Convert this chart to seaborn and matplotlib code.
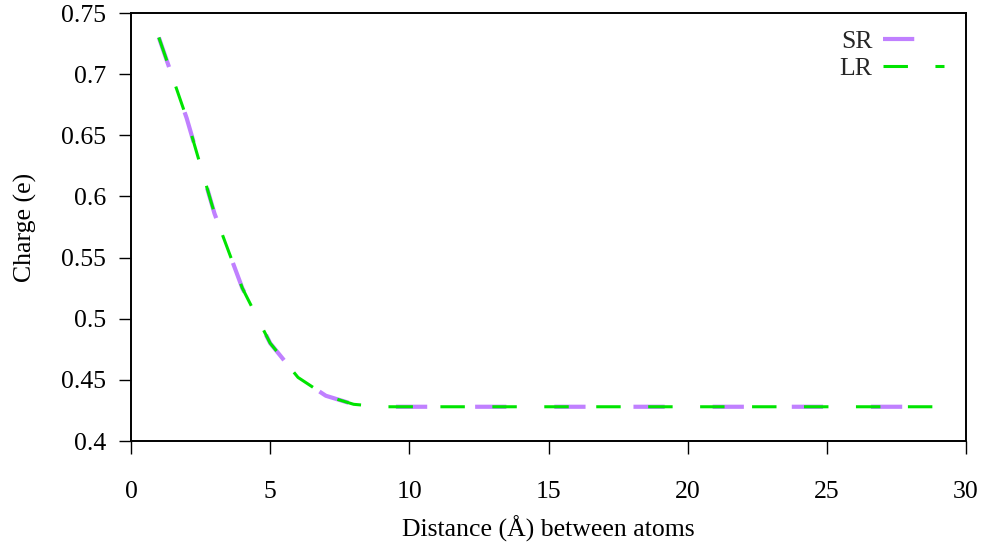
import matplotlib
matplotlib.use("Agg")
import matplotlib.pyplot as plt
import seaborn as sns
import pandas as pd
from matplotlib.ticker import FuncFormatter

distance = list(range(1, 30))
sr_charge = [0.730, 0.664, 0.586, 0.525, 0.480, 0.452, 0.437, 0.430] + [0.428] * 21
lr_charge = [0.730, 0.664, 0.586, 0.525, 0.480, 0.452, 0.437, 0.430] + [0.428] * 21
x_ticks = [0, 5, 10, 15, 20, 25, 30]
y_ticks = [0.4, 0.45, 0.5, 0.55, 0.6, 0.65, 0.7, 0.75]

sns.set_theme(style="white")
plt.rcParams['font.family'] = ['Liberation Serif', 'DejaVu Serif']

fig = plt.figure(figsize=(9.84, 5.44), dpi=100)
ax = fig.add_axes([131/984, 103/544, (966-131)/984, (441-13)/544])

df_sr = pd.DataFrame({"x": distance, "y": sr_charge})
df_lr = pd.DataFrame({"x": distance, "y": lr_charge})

sns.lineplot(data=df_sr, x="x", y="y", ax=ax, color="#c080ff", linewidth=3.0,
             label="SR", zorder=2)
sns.lineplot(data=df_lr, x="x", y="y", ax=ax, color="#00e400", linewidth=2.2,
             label="LR", zorder=3)
lines = ax.get_lines()
lines[0].set_dashes((7.5, 11.5))
lines[0].set_dash_capstyle("butt")
lines[1].set_dashes((8.0, 9.0))
lines[1].set_dash_capstyle("butt")

ax.set_xlim(0, 30)
ax.set_ylim(0.4, 0.75)
ax.set_xticks(x_ticks)
ax.set_yticks(y_ticks)
ax.yaxis.set_major_formatter(FuncFormatter(lambda v, p: f"{v:g}"))
ax.tick_params(axis="both", direction="out", length=9, width=1.0, labelsize=18.5,
               colors="black", left=True, bottom=True)
ax.tick_params(axis="x", pad=20)
ax.tick_params(axis="y", pad=9)
for s in ax.spines.values():
    s.set_color("black")
    s.set_linewidth(1.4)

ax.set_xlabel("Distance (Å) between atoms", fontsize=18.5, color="black", labelpad=9)
ax.set_ylabel("Charge (e)", fontsize=18.5, color="black", labelpad=17)

leg = ax.legend(loc="upper right", frameon=False, markerfirst=False, fontsize=18.5,
                handlelength=2.4, handletextpad=0.4, labelspacing=0.15,
                borderaxespad=0.25, bbox_to_anchor=(1 - 5/835, 1.0))

fig.savefig("out.png", dpi=100, facecolor="white")
